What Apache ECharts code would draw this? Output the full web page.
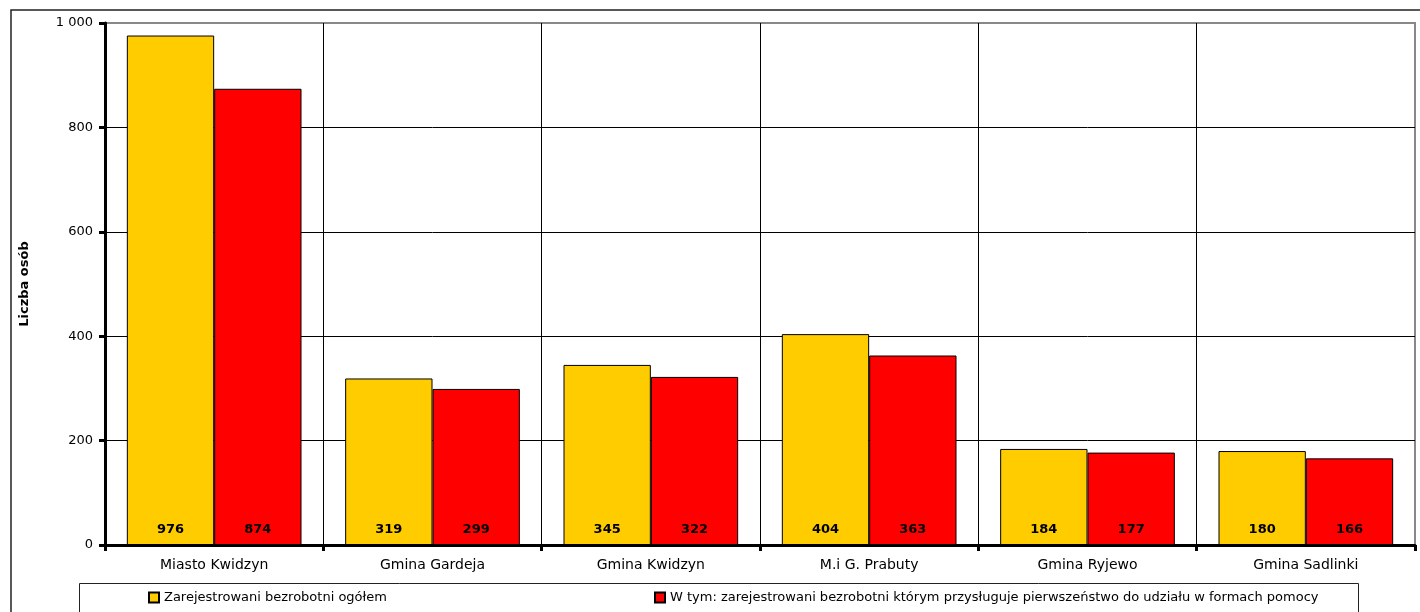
<!DOCTYPE html>
<html><head><meta charset="utf-8">
<script src="https://cdn.jsdelivr.net/npm/echarts@6/dist/echarts.min.js"></script>
<style>html,body{margin:0;padding:0;background:#fff}#c{width:1420px;height:612px}</style>
</head><body><div id="c"></div>
<script>
const categories = ['Miasto Kwidzyn','Gmina Gardeja','Gmina Kwidzyn','M.i G. Prabuty','Gmina Ryjewo','Gmina Sadlinki'];
const totalValues = [976, 319, 345, 404, 184, 180];
const priorityValues = [874, 299, 322, 363, 177, 166];
const seriesNames = ['Zarejestrowani bezrobotni ogółem','W tym: zarejestrowani bezrobotni którym przysługuje pierwszeństwo do udziału w formach pomocy'];
const yTicks = [0, 200, 400, 600, 800, 1000];

const font = 'Verdana, "DejaVu Sans", sans-serif';
const chart = echarts.init(document.getElementById('c'), null, {renderer:'canvas'});
const labelCfg = {show:true, position:'insideBottom', distance:9, fontWeight:'bold', fontSize:13, color:'#000', fontFamily:font};
const legendText = {fontSize:13, color:'#000', fontFamily:font};
chart.setOption({
  animation:false,
  textStyle:{fontFamily:font},
  graphic:[
    {type:'rect', shape:{x:11,y:10,width:1430,height:700}, style:{fill:'none', stroke:'#222', lineWidth:1.5}, z:-10},
    {type:'rect', shape:{x:79.5,y:583.5,width:1279,height:40}, style:{fill:'#fff', stroke:'#222', lineWidth:1}, z:-5}
  ],
  grid:{left:105, right:5, top:23, bottom:67, show:true, borderColor:'#888', borderWidth:2},
  legend:[
    {data:[seriesNames[0]], left:143, top:589, icon:'rect', itemWidth:10, itemHeight:10, itemGap:0, padding:[2,5], textStyle:legendText},
    {data:[seriesNames[1]], left:649, top:589, icon:'rect', itemWidth:10, itemHeight:10, itemGap:0, padding:[2,5], textStyle:legendText}
  ],
  xAxis:{
    type:'category', data:categories, boundaryGap:true,
    axisLine:{lineStyle:{color:'#000', width:3}},
    axisTick:{show:true, length:6, lineStyle:{color:'#000', width:3}},
    axisLabel:{color:'#000', fontSize:14, margin:13, fontFamily:font},
    splitLine:{show:true, lineStyle:{color:['#000','#000','#000','#000','#000','#000','#888'], width:1}}
  },
  yAxis:{
    type:'value', min:yTicks[0], max:yTicks[yTicks.length-1], interval:200,
    name:'Liczba osób', nameLocation:'middle', nameRotate:90, nameGap:74,
    nameTextStyle:{fontWeight:'bold', fontSize:13, color:'#000', fontFamily:font},
    axisLine:{show:true, lineStyle:{color:'#000', width:3}},
    axisTick:{show:true, length:6, lineStyle:{color:'#000', width:3}},
    axisLabel:{color:'#000', fontSize:13, margin:12, fontFamily:font,
      formatter:v => String(v).replace(/\B(?=(\d{3})+(?!\d))/g,' ')},
    splitLine:{show:true, lineStyle:{color:['#000','#000','#000','#000','#000','#888'], width:1}}
  },
  series:[
    {name:seriesNames[0], type:'bar', data:totalValues, barGap:'0%', barCategoryGap:'20%',
     itemStyle:{color:'#FFCC00', borderColor:'#000', borderWidth:1}, label:labelCfg},
    {name:seriesNames[1], type:'bar', data:priorityValues, barGap:'0%', barCategoryGap:'20%',
     itemStyle:{color:'#FF0000', borderColor:'#000', borderWidth:1}, label:labelCfg}
  ]
});
</script></body></html>
